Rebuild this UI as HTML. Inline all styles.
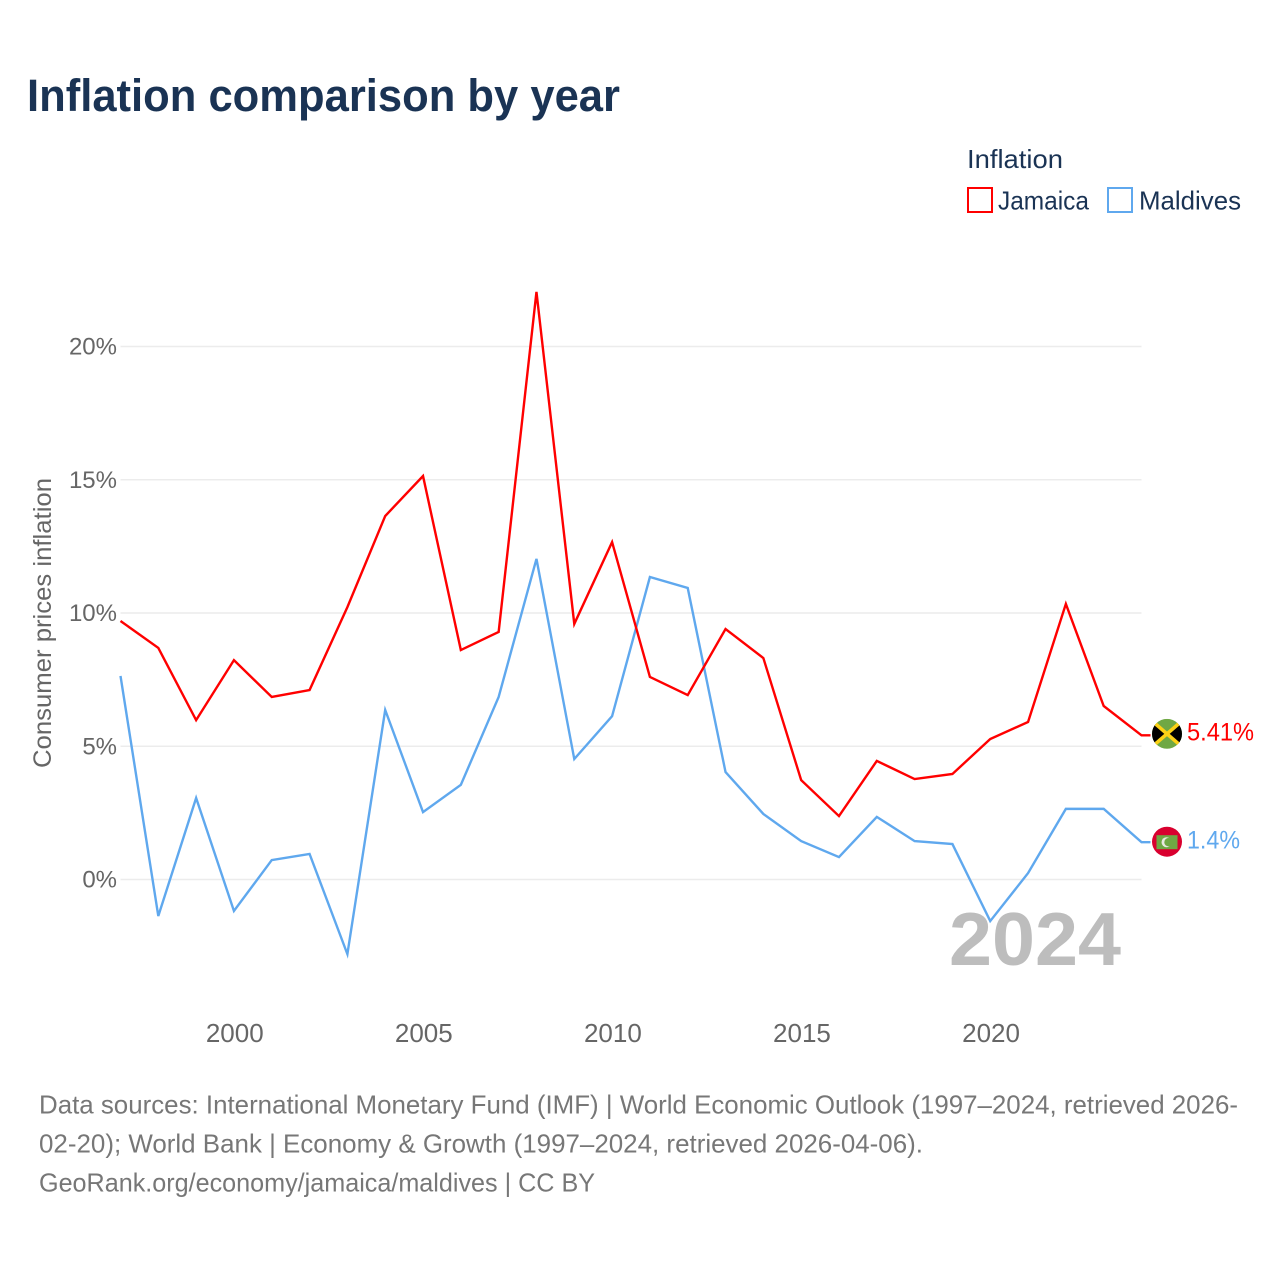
<!DOCTYPE html>
<html lang="en">
<head>
<meta charset="utf-8">
<title>Inflation comparison by year</title>
<style>
html,body{margin:0;padding:0;background:#fff}
svg{display:block}
text{font-family:"Liberation Sans",sans-serif}
</style>
</head>
<body>
<svg id="chart" xmlns="http://www.w3.org/2000/svg" width="1280" height="1280" viewBox="0 0 1280 1280">
  <rect width="1280" height="1280" fill="#fff"/>
  <text x="27" y="111" font-size="45" font-weight="700" fill="#1a3354" textLength="593" lengthAdjust="spacingAndGlyphs">Inflation comparison by year</text>

  <g>
    <text x="967" y="168" font-size="26" fill="#1a3354" textLength="96" lengthAdjust="spacingAndGlyphs">Inflation</text>
    <g>
      <rect x="968" y="188" width="24" height="24" fill="#fff" stroke="#ff0000" stroke-width="2"/>
      <text x="998" y="209.500" font-size="26" fill="#1a3354" textLength="91" lengthAdjust="spacingAndGlyphs">Jamaica</text>
    </g>
    <g>
      <rect x="1108" y="188" width="24" height="24" fill="#fff" stroke="#5fa8ee" stroke-width="2"/>
      <text x="1139" y="209.500" font-size="26" fill="#1a3354" textLength="102" lengthAdjust="spacingAndGlyphs">Maldives</text>
    </g>
  </g>

  <g id="grid"></g>
  <g id="y-ticks"></g>
  <g id="x-ticks"></g>
  <text transform="translate(51,768) rotate(-90)" font-size="25" fill="#666" textLength="290" lengthAdjust="spacingAndGlyphs">Consumer prices inflation</text>
  <text x="949" y="965" font-size="75" font-weight="700" fill="#bdbdbd" textLength="172" lengthAdjust="spacingAndGlyphs">2024</text>
  <g id="series"></g>

  <defs>
    <clipPath id="flag-clip"><circle cx="0" cy="0" r="15"/></clipPath>
  </defs>
  <g id="flag-jamaica">
    <g clip-path="url(#flag-clip)">
      <rect x="-15" y="-15" width="30" height="30" fill="#6fa844"/>
      <path d="M-15,-13 L0,0 L-15,13 Z" fill="#000"/>
      <path d="M15,-13 L0,0 L15,13 Z" fill="#000"/>
      <path d="M-15,-13 L15,13 M15,-13 L-15,13" stroke="#fcd116" stroke-width="3.6"/>
    </g>
  </g>
  <g id="flag-maldives">
    <circle cx="0" cy="0" r="15" fill="#d9002f"/>
    <rect x="-10.500" y="-6.500" width="21" height="14" fill="#6fa844"/>
    <circle cx="-0.500" cy="0.500" r="5" fill="#e8e8e0"/>
    <circle cx="1.500" cy="0.500" r="4.200" fill="#6fa844"/>
  </g>
  <text id="label-jamaica" x="1187" font-size="25" fill="#ff0000" textLength="67" lengthAdjust="spacingAndGlyphs"></text>
  <text id="label-maldives" x="1187" font-size="25" fill="#5fa8ee" textLength="53" lengthAdjust="spacingAndGlyphs"></text>

  <g>
    <text x="39" y="1113.500" font-size="26" fill="#777" textLength="1199" lengthAdjust="spacingAndGlyphs">Data sources: International Monetary Fund (IMF) | World Economic Outlook (1997–2024, retrieved 2026-</text>
    <text x="39" y="1152.500" font-size="26" fill="#777" textLength="884" lengthAdjust="spacingAndGlyphs">02-20); World Bank | Economy &amp; Growth (1997–2024, retrieved 2026-04-06).</text>
    <text x="39" y="1191.500" font-size="26" fill="#777" textLength="556" lengthAdjust="spacingAndGlyphs">GeoRank.org/economy/jamaica/maldives | CC BY</text>
  </g>
</svg>
<script>
const years = [1997,1998,1999,2000,2001,2002,2003,2004,2005,2006,2007,2008,2009,2010,2011,2012,2013,2014,2015,2016,2017,2018,2019,2020,2021,2022,2023,2024];
const jamaica = [9.7,8.69,5.98,8.23,6.85,7.11,10.22,13.64,15.14,8.61,9.29,22.05,9.59,12.66,7.6,6.92,9.4,8.31,3.73,2.38,4.45,3.77,3.96,5.27,5.91,10.34,6.51,5.41];
const maldives = [7.64,-1.37,3.06,-1.18,0.73,0.96,-2.8,6.36,2.53,3.55,6.85,12.03,4.52,6.13,11.35,10.94,4.03,2.46,1.44,0.84,2.35,1.44,1.33,-1.56,0.24,2.65,2.65,1.4];
const yTickValues = [0,5,10,15,20];
const xTickValues = [2000,2005,2010,2015,2020];

const NS = 'http://www.w3.org/2000/svg';
const xScale = function (yr) { return 120.5 + (yr - 1997) * (1021 / 27); };
const yScale = function (v) { return 879.5 - v * 26.65; };
const X0 = xScale(1997);
const X1 = xScale(2024);

const gridGroup = document.getElementById('grid');
const yTickGroup = document.getElementById('y-ticks');
const xTickGroup = document.getElementById('x-ticks');
const seriesGroup = document.getElementById('series');

yTickValues.forEach(function (v) {
  const line = document.createElementNS(NS, 'line');
  
  
  line.setAttribute('x1', X0);
  line.setAttribute('x2', X1);
  line.setAttribute('y1', yScale(v));
  line.setAttribute('y2', yScale(v));
  line.setAttribute('stroke', '#ececec');
  line.setAttribute('stroke-width', '1.5');
  gridGroup.appendChild(line);

  const t = document.createElementNS(NS, 'text');
  
  
  t.setAttribute('x', 117);
  t.setAttribute('y', yScale(v) + 8);
  t.setAttribute('text-anchor', 'end');
  t.setAttribute('font-size', '24');
  t.setAttribute('fill', '#666');
  t.textContent = v + '%';
  yTickGroup.appendChild(t);
});

xTickValues.forEach(function (yr) {
  const t = document.createElementNS(NS, 'text');
  
  
  t.setAttribute('x', xScale(yr) + 0.8);
  t.setAttribute('y', 1042);
  t.setAttribute('text-anchor', 'middle');
  t.setAttribute('font-size', '26');
  t.setAttribute('fill', '#666');
  t.textContent = String(yr);
  xTickGroup.appendChild(t);
});

function buildPath(values) {
  let d = '';
  values.forEach(function (v, i) {
    d += (i ? 'L' : 'M') + xScale(years[i]).toFixed(2) + ',' + yScale(v).toFixed(2);
  });
  d += 'L' + (X1 + 9).toFixed(2) + ',' + yScale(values[values.length - 1]).toFixed(2);
  return d;
}

const maldivesLine = document.createElementNS(NS, 'path');


maldivesLine.setAttribute('d', buildPath(maldives));
maldivesLine.setAttribute('fill', 'none');
maldivesLine.setAttribute('stroke', '#5fa8ee');
maldivesLine.setAttribute('stroke-width', '2.4');
seriesGroup.appendChild(maldivesLine);

const jamaicaLine = document.createElementNS(NS, 'path');


jamaicaLine.setAttribute('d', buildPath(jamaica));
jamaicaLine.setAttribute('fill', 'none');
jamaicaLine.setAttribute('stroke', '#ff0000');
jamaicaLine.setAttribute('stroke-width', '2.4');
seriesGroup.appendChild(jamaicaLine);

const lastJ = jamaica[jamaica.length - 1];
const lastM = maldives[maldives.length - 1];
document.getElementById('flag-jamaica').setAttribute('transform', 'translate(1167,' + (yScale(lastJ) - 1.5) + ')');
document.getElementById('flag-maldives').setAttribute('transform', 'translate(1167,' + (yScale(lastM) - 0.5) + ')');
const labelJ = document.getElementById('label-jamaica');
labelJ.setAttribute('y', yScale(lastJ) + 5);
labelJ.textContent = lastJ + '%';
const labelM = document.getElementById('label-maldives');
labelM.setAttribute('y', yScale(lastM) + 6.5);
labelM.textContent = lastM + '%';
</script>
</body>
</html>
